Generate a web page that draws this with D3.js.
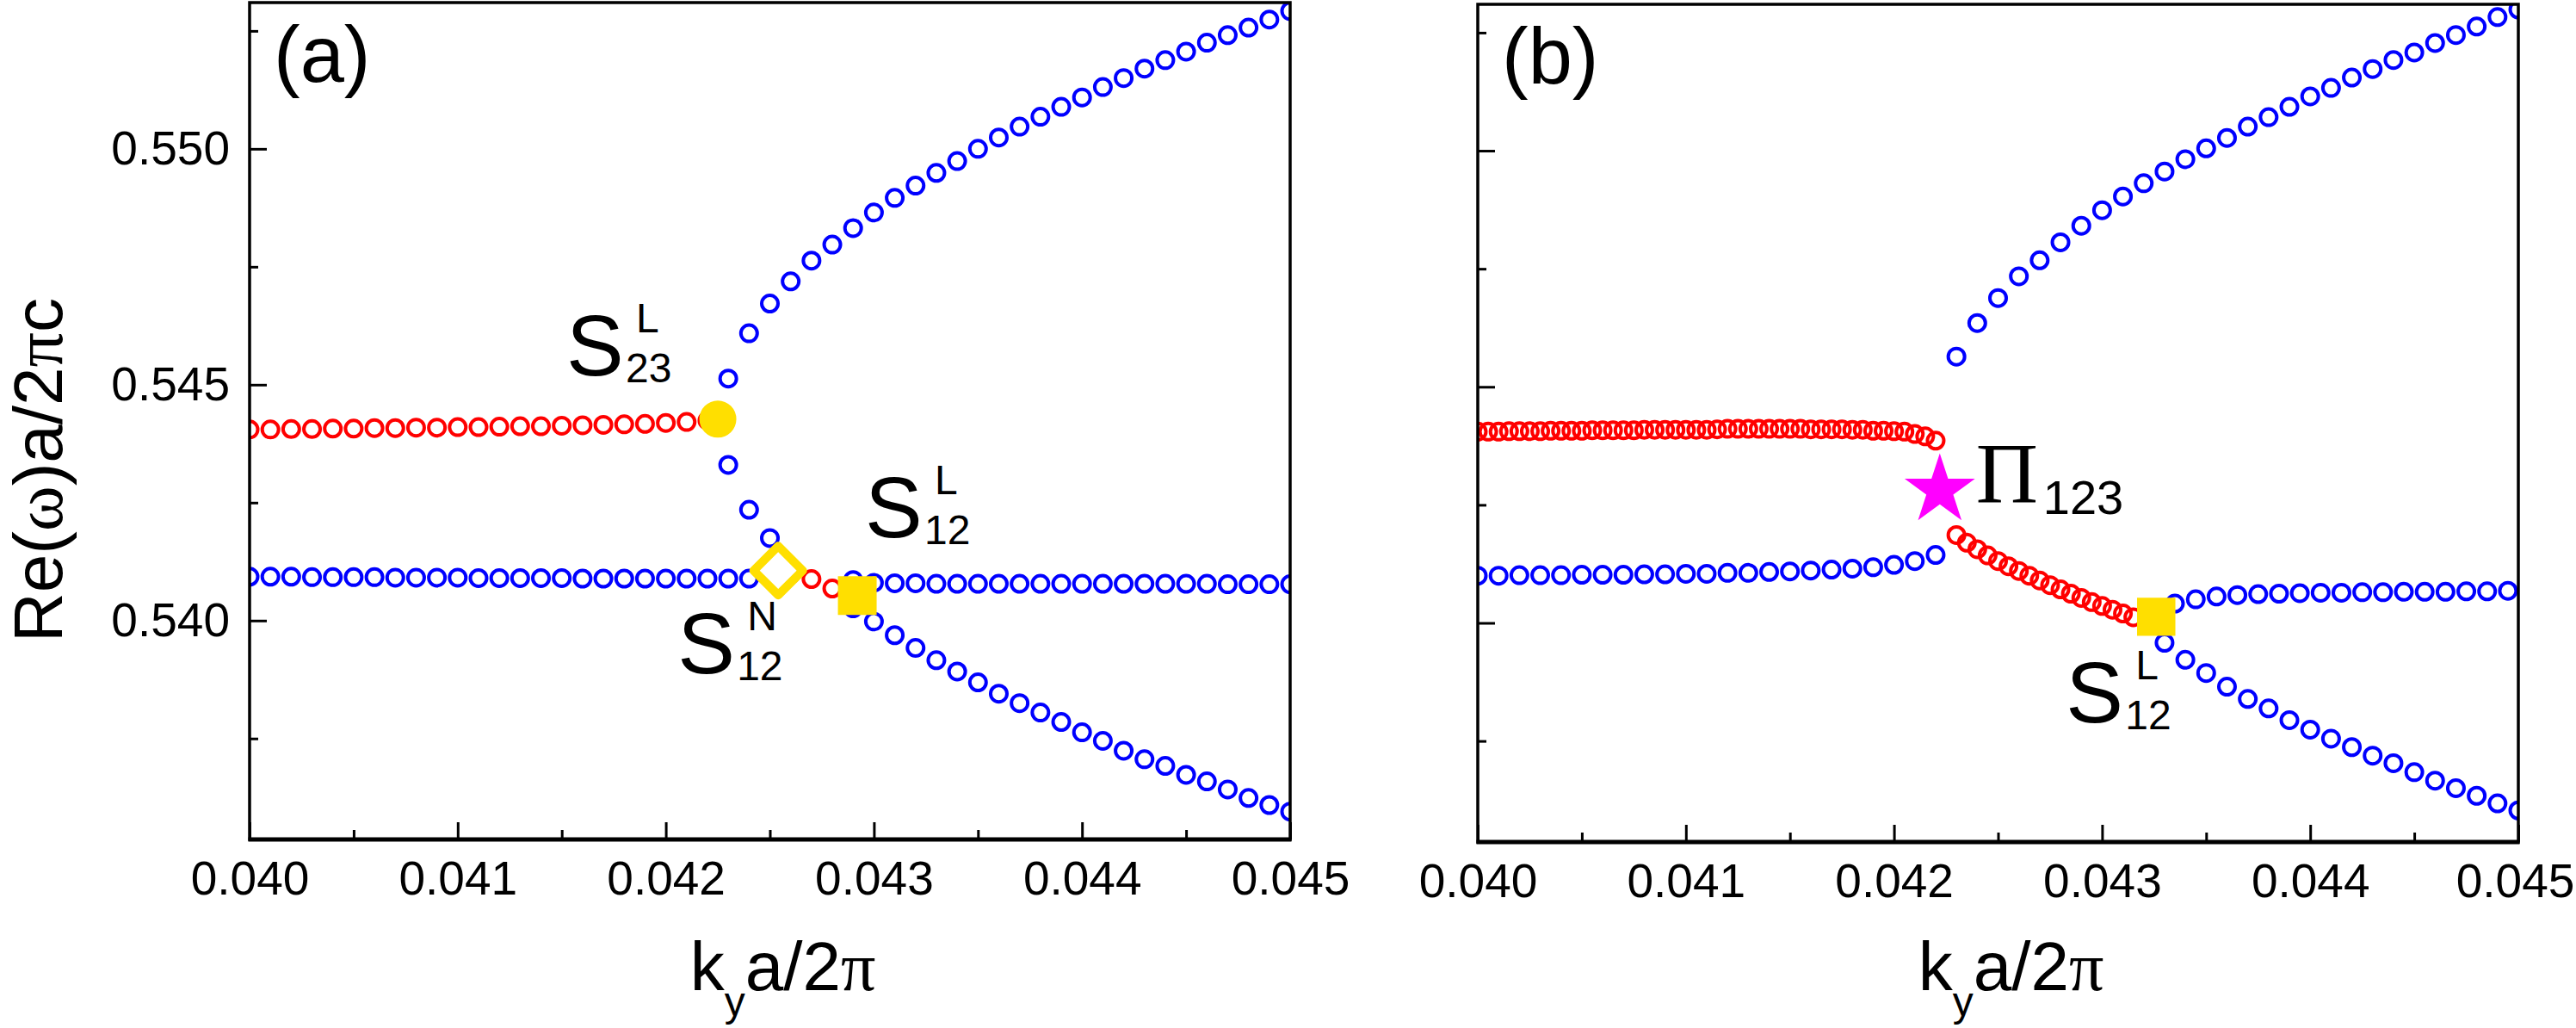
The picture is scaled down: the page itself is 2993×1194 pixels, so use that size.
<!DOCTYPE html>
<html lang="en">
<head>
<meta charset="utf-8">
<title>Re(ω) versus k_y</title>
<script src="https://d3js.org/d3.v7.min.js"></script>
<style>
	html, body { margin: 0; padding: 0; background: #fff; }
	svg text { font-family: "Liberation Sans", Arial, sans-serif; fill: #000; }
	svg .serif { font-family: "Liberation Serif", "Times New Roman", serif; }
</style>
</head>
<body>
<div id="chart"></div>
<script>
// ticks
var xTicks = [0.040, 0.041, 0.042, 0.043, 0.044, 0.045];
var xTickLabels = ["0.040", "0.041", "0.042", "0.043", "0.044", "0.045"];
var xMinorTicks = [0.0405, 0.0415, 0.0425, 0.0435, 0.0445];
var yTicks = [0.540, 0.545, 0.550];
var yTickLabels = ["0.540", "0.545", "0.550"];
var yMinorTicks = [0.5375, 0.5425, 0.5475, 0.5525];

// panel (a): [k_y a/2pi, Re(w)a/2pi c]
var aRed = [
	[0.0400,0.54405],[0.0401,0.54405],[0.0402,0.54406],[0.0403,0.54406],[0.0404,0.54407],
	[0.0405,0.54407],[0.0406,0.54408],[0.0407,0.54408],[0.0408,0.54409],[0.0409,0.54409],
	[0.0410,0.54410],[0.0411,0.54410],[0.0412,0.54411],[0.0413,0.54412],[0.0414,0.54412],
	[0.0415,0.54413],[0.0416,0.54414],[0.0417,0.54415],[0.0418,0.54416],[0.0419,0.54417],
	[0.0420,0.54419],[0.0421,0.54421],[0.0422,0.54424],
	[0.0426,0.54098],[0.0427,0.54088],[0.0428,0.54068]
];
var aBlueFlat = [
	[0.0400,0.54093],[0.0401,0.54093],[0.0402,0.54093],[0.0403,0.54092],[0.0404,0.54092],
	[0.0405,0.54092],[0.0406,0.54092],[0.0407,0.54091],[0.0408,0.54091],[0.0409,0.54091],
	[0.0410,0.54091],[0.0411,0.54090],[0.0412,0.54090],[0.0413,0.54090],[0.0414,0.54090],
	[0.0415,0.54090],[0.0416,0.54089],[0.0417,0.54089],[0.0418,0.54089],[0.0419,0.54089],
	[0.0420,0.54089],[0.0421,0.54089],[0.0422,0.54089],[0.0423,0.54089],[0.0424,0.54089],
	[0.0425,0.54092],
	[0.0429,0.54086],[0.0430,0.54080],[0.0431,0.54079],[0.0432,0.54079],[0.0433,0.54078],
	[0.0434,0.54078],[0.0435,0.54078],[0.0436,0.54078],[0.0437,0.54078],[0.0438,0.54078],
	[0.0439,0.54078],[0.0440,0.54078],[0.0441,0.54078],[0.0442,0.54078],[0.0443,0.54078],
	[0.0444,0.54078],[0.0445,0.54078],[0.0446,0.54078],[0.0447,0.54077],[0.0448,0.54077],
	[0.0449,0.54077],[0.0450,0.54077]
];
var aBlueUpper = [
	[0.0423,0.54513],[0.0424,0.54609],[0.0425,0.54672],[0.0426,0.54719],[0.0427,0.54763],
	[0.0428,0.54797],[0.0429,0.54832],[0.0430,0.54865],[0.0431,0.54896],[0.0432,0.54922],
	[0.0433,0.54949],[0.0434,0.54974],[0.0435,0.55000],[0.0436,0.55024],[0.0437,0.55047],
	[0.0438,0.55068],[0.0439,0.55089],[0.0440,0.55109],[0.0441,0.55131],[0.0442,0.55150],
	[0.0443,0.55170],[0.0444,0.55188],[0.0445,0.55206],[0.0446,0.55225],[0.0447,0.55241],
	[0.0448,0.55257],[0.0449,0.55274],[0.0450,0.55292]
];
var aBlueLower = [
	[0.0423,0.54330],[0.0424,0.54235],[0.0425,0.54175],
	[0.0429,0.54026],[0.0430,0.53998],[0.0431,0.53969],[0.0432,0.53942],[0.0433,0.53916],
	[0.0434,0.53892],[0.0435,0.53869],[0.0436,0.53845],[0.0437,0.53825],[0.0438,0.53805],
	[0.0439,0.53785],[0.0440,0.53763],[0.0441,0.53745],[0.0442,0.53724],[0.0443,0.53706],
	[0.0444,0.53692],[0.0445,0.53673],[0.0446,0.53659],[0.0447,0.53642],[0.0448,0.53624],
	[0.0449,0.53609],[0.0450,0.53595]
];
// singular points in (a)
var aS23L = [0.04225, 0.54427];
var aS12N = [0.04254, 0.54106];
var aS12L = [0.04292, 0.54053];

// panel (b)
var bRedUpper = [
	[0.04000,0.54405],[0.04005,0.54405],[0.04010,0.54405],[0.04015,0.54406],[0.04020,0.54406],
	[0.04025,0.54406],[0.04030,0.54406],[0.04035,0.54407],[0.04040,0.54407],[0.04045,0.54407],
	[0.04050,0.54407],[0.04055,0.54408],[0.04060,0.54408],[0.04065,0.54408],[0.04070,0.54408],
	[0.04075,0.54408],[0.04080,0.54409],[0.04085,0.54409],[0.04090,0.54409],[0.04095,0.54409],
	[0.04100,0.54409],[0.04105,0.54409],[0.04110,0.54409],[0.04115,0.54410],[0.04120,0.54411],
	[0.04125,0.54411],[0.04130,0.54411],[0.04135,0.54411],[0.04140,0.54411],[0.04145,0.54411],
	[0.04150,0.54411],[0.04155,0.54411],[0.04160,0.54410],[0.04165,0.54410],[0.04170,0.54410],
	[0.04175,0.54410],[0.04180,0.54409],[0.04185,0.54409],[0.04190,0.54407],[0.04195,0.54407],
	[0.04200,0.54406],[0.04205,0.54405],[0.04210,0.54400],[0.04215,0.54395],[0.04220,0.54386]
];
var bRedLower = [
	[0.04230,0.54186],[0.04235,0.54170],[0.04240,0.54156],[0.04245,0.54143],[0.04250,0.54131],
	[0.04255,0.54120],[0.04260,0.54110],[0.04265,0.54100],[0.04270,0.54090],[0.04275,0.54080],
	[0.04280,0.54071],[0.04285,0.54062],[0.04290,0.54053],[0.04295,0.54044],[0.04300,0.54036],
	[0.04305,0.54028],[0.04310,0.54020],[0.04315,0.54012]
];
var bBlueFlat = [
	[0.0400,0.54100],[0.0401,0.54100],[0.0402,0.54101],[0.0403,0.54101],[0.0404,0.54101],
	[0.0405,0.54102],[0.0406,0.54102],[0.0407,0.54102],[0.0408,0.54103],[0.0409,0.54103],
	[0.0410,0.54104],[0.0411,0.54104],[0.0412,0.54106],[0.0413,0.54106],[0.0414,0.54108],
	[0.0415,0.54109],[0.0416,0.54111],[0.0417,0.54113],[0.0418,0.54115],[0.0419,0.54118],
	[0.0420,0.54123],[0.0421,0.54131],[0.0422,0.54144],
	[0.04335,0.54041],[0.04345,0.54050],[0.04355,0.54056],[0.04365,0.54059],[0.04375,0.54061],
	[0.04385,0.54062],[0.04395,0.54063],[0.04405,0.54064],[0.04415,0.54064],[0.04425,0.54065],
	[0.04435,0.54065],[0.04445,0.54066],[0.04455,0.54066],[0.04465,0.54066],[0.04475,0.54067],
	[0.04485,0.54067],[0.04495,0.54068]
];
var bBlueUpper = [
	[0.0423,0.54564],[0.0424,0.54635],[0.0425,0.54688],[0.0426,0.54734],[0.0427,0.54768],
	[0.0428,0.54806],[0.0429,0.54841],[0.0430,0.54874],[0.0431,0.54903],[0.0432,0.54931],
	[0.0433,0.54956],[0.0434,0.54982],[0.0435,0.55005],[0.0436,0.55027],[0.0437,0.55051],
	[0.0438,0.55071],[0.0439,0.55093],[0.0440,0.55115],[0.0441,0.55133],[0.0442,0.55155],
	[0.0443,0.55173],[0.0444,0.55192],[0.0445,0.55208],[0.0446,0.55228],[0.0447,0.55245],
	[0.0448,0.55263],[0.0449,0.55283],[0.0450,0.55299]
];
var bBlueLower = [
	[0.0433,0.53958],[0.0434,0.53922],[0.0435,0.53894],[0.0436,0.53865],[0.0437,0.53839],
	[0.0438,0.53819],[0.0439,0.53794],[0.0440,0.53774],[0.0441,0.53755],[0.0442,0.53737],
	[0.0443,0.53719],[0.0444,0.53703],[0.0445,0.53684],[0.0446,0.53666],[0.0447,0.53650],
	[0.0448,0.53634],[0.0449,0.53618],[0.0450,0.53603]
];
// singular points in (b)
var bPi123 = [0.04222, 0.54281];
var bS12L = [0.04326, 0.54013];

var W = 2993, H = 1194;
var blue = "#0000ff", red = "#ff0000", yellow = "#ffdf00", magenta = "#ff00ff";
var xDomain = [0.040, 0.045], yDomain = [0.53536, 0.5531];

var svg = d3.select("#chart").append("svg")
	.attr("width", W)
	.attr("height", H);
var defs = svg.append("defs");

var panels = [
	{ tag: "(a)", left: 290, right: 1499, top: 3, bottom: 975, yLabels: true,
	  blue: [aBlueFlat, aBlueUpper, aBlueLower], red: [aRed] },
	{ tag: "(b)", left: 1717, right: 2926, top: 5, bottom: 978, yLabels: false,
	  blue: [bBlueFlat, bBlueUpper, bBlueLower], red: [bRedUpper, bRedLower] }
];

// S with stacked superscript / subscript (Origin style)
function stacked(g, x0, y0, sup, sub) {
	g.append("text").attr("x", x0).attr("y", y0).attr("font-size", 100).text("S");
	g.append("text").attr("x", x0 + 81).attr("y", y0 - 50).attr("font-size", 48).text(sup);
	g.append("text").attr("x", x0 + 69).attr("y", y0 + 8).attr("font-size", 48).text(sub);
}

panels.forEach(function(p, i) {
	var x = d3.scaleLinear().domain(xDomain).range([p.left, p.right]);
	var y = d3.scaleLinear().domain(yDomain).range([p.bottom, p.top]);
	p.x = x; p.y = y;

	var g = svg.append("g");

	defs.append("clipPath").attr("id", "clip" + i)
		.append("rect")
		.attr("x", p.left).attr("y", p.top)
		.attr("width", p.right - p.left).attr("height", p.bottom - p.top);

	var plot = g.append("g").attr("clip-path", "url(#clip" + i + ")");

	// open circles, blue first then red on top
	p.blue.concat(p.red).forEach(function(series, j) {
		var col = j < p.blue.length ? blue : red;
		plot.append("g").selectAll("circle")
			.data(series)
			.enter()
			.append("circle")
			.attr("cx", function(d) { return x(d[0]); })
			.attr("cy", function(d) { return y(d[1]); })
			.attr("r", 9.5)
			.attr("fill", "none")
			.attr("stroke", col)
			.attr("stroke-width", 4);
	});

	// axes, ticks pointing inward
	var xAxis = g.append("g").attr("transform", "translate(0," + p.bottom + ")")
		.call(d3.axisBottom(x).tickValues(xTicks)
			.tickFormat(function(d, k) { return xTickLabels[k]; })
			.tickSize(-20).tickSizeOuter(0).tickPadding(25));
	var xMinor = g.append("g").attr("transform", "translate(0," + p.bottom + ")")
		.call(d3.axisBottom(x).tickValues(xMinorTicks).tickFormat("")
			.tickSize(-11).tickSizeOuter(0));
	var yAxis = g.append("g").attr("transform", "translate(" + p.left + ",0)")
		.call(d3.axisLeft(y).tickValues(yTicks)
			.tickFormat(function(d, k) { return p.yLabels ? yTickLabels[k] : ""; })
			.tickSize(-20).tickSizeOuter(0).tickPadding(23));
	var yMinor = g.append("g").attr("transform", "translate(" + p.left + ",0)")
		.call(d3.axisLeft(y).tickValues(yMinorTicks).tickFormat("")
			.tickSize(-10).tickSizeOuter(0));

	[xAxis, xMinor, yAxis, yMinor].forEach(function(a) {
		a.select(".domain").remove();
		a.selectAll(".tick line").attr("stroke", "#000").attr("stroke-width", 3);
		a.selectAll(".tick text")
			.attr("font-family", "'Liberation Sans', Arial, sans-serif")
			.attr("font-size", 55)
			.attr("fill", "#000");
	});
	// keep the last label of the right panel inside the page
	if (i === 1) {
		xAxis.selectAll(".tick text").filter(function(d) { return d === 0.045; })
			.attr("dx", -4);
	}

	// frame
	g.append("rect")
		.attr("x", p.left).attr("y", p.top)
		.attr("width", p.right - p.left).attr("height", p.bottom - p.top)
		.attr("fill", "none").attr("stroke", "#000").attr("stroke-width", 3.5);
	g.append("line")
		.attr("x1", p.left - 1.5).attr("x2", p.right + 1.5)
		.attr("y1", p.bottom).attr("y2", p.bottom)
		.attr("stroke", "#000").attr("stroke-width", 5);

	// panel tag
	g.append("text")
		.attr("x", p.left + 28).attr("y", p.top + 92)
		.attr("font-size", 92)
		.text(p.tag);

	// x title
	var xt = g.append("text")
		.attr("x", (p.left + p.right) / 2 + 15)
		.attr("y", 1150)
		.attr("text-anchor", "middle")
		.attr("font-size", 80);
	xt.append("tspan").text("k");
	xt.append("tspan").attr("font-size", 48).attr("dy", 30).text("y");
	xt.append("tspan").attr("dy", -30).text("a/2");
	xt.append("tspan").attr("class", "serif").text("π");
});

// y title
var yt = svg.append("text")
	.attr("transform", "translate(72,546) rotate(-90)")
	.attr("text-anchor", "middle")
	.attr("font-size", 80);
yt.append("tspan").text("Re(");
yt.append("tspan").attr("class", "serif").text("ω");
yt.append("tspan").text(")a/2");
yt.append("tspan").attr("class", "serif").text("π");
yt.append("tspan").text("c");

// singular points and their labels
var pa = panels[0], pb = panels[1];
var marks = svg.append("g");
var labels = svg.append("g");

var c = [pa.x(aS23L[0]), pa.y(aS23L[1])];
marks.append("path")
	.attr("d", d3.symbol().type(d3.symbolCircle).size(1452)())
	.attr("transform", "translate(" + c + ")")
	.attr("fill", yellow);
stacked(labels, c[0] - 176, c[1] - 51, "L", "23");

var dmd = [pa.x(aS12N[0]), pa.y(aS12N[1])];
marks.append("path")
	.attr("d", d3.symbol().type(d3.symbolSquare).size(1624)())
	.attr("transform", "translate(" + dmd + ") rotate(45)")
	.attr("fill", "#fff").attr("stroke", yellow).attr("stroke-width", 10)
	.attr("stroke-linejoin", "round");
stacked(labels, dmd[0] - 117, dmd[1] + 119, "N", "12");

var sq = [pa.x(aS12L[0]), pa.y(aS12L[1])];
marks.append("path")
	.attr("d", d3.symbol().type(d3.symbolSquare).size(2025)())
	.attr("transform", "translate(" + sq + ")")
	.attr("fill", yellow);
stacked(labels, sq[0] + 9, sq[1] - 68, "L", "12");

var st = [pb.x(bPi123[0]), pb.y(bPi123[1])];
marks.append("path")
	.attr("d", d3.symbol().type(d3.symbolStar).size(2076)())
	.attr("transform", "translate(" + st + ")")
	.attr("fill", magenta);
labels.append("text").attr("class", "serif")
	.attr("x", st[0] + 42).attr("y", st[1] + 14)
	.attr("font-size", 100).text("Π");
labels.append("text")
	.attr("x", st[0] + 120).attr("y", st[1] + 28)
	.attr("font-size", 56).text("123");

var sqb = [pb.x(bS12L[0]), pb.y(bS12L[1])];
marks.append("path")
	.attr("d", d3.symbol().type(d3.symbolSquare).size(1980)())
	.attr("transform", "translate(" + sqb + ")")
	.attr("fill", yellow);
stacked(labels, sqb[0] - 105, sqb[1] + 123, "L", "12");
</script>
</body>
</html>
